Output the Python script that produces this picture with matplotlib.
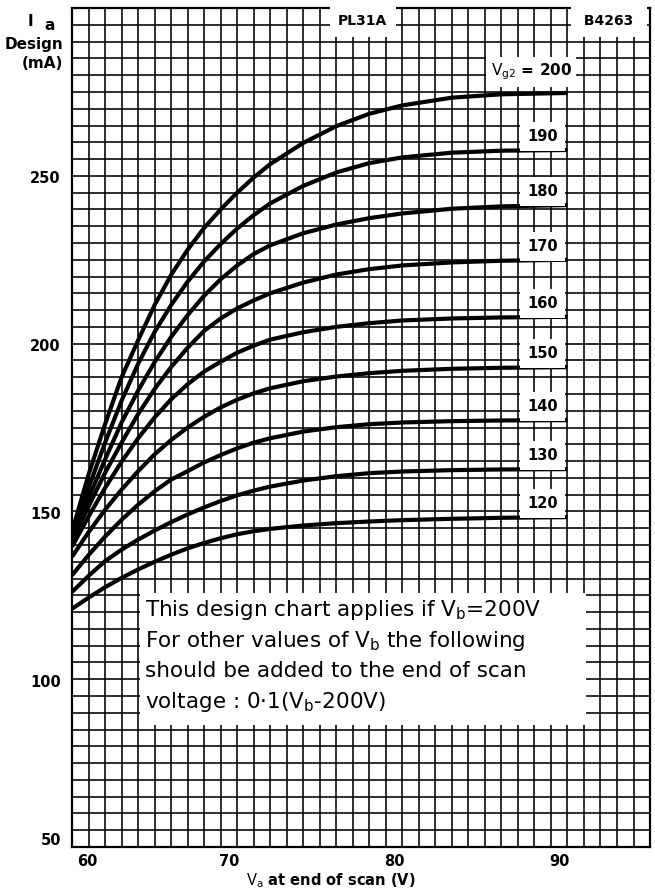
import matplotlib

matplotlib.use("Agg")
import matplotlib.pyplot as plt
import matplotlib.transforms as mtransforms
from matplotlib.patches import Rectangle
from matplotlib.ticker import MultipleLocator

plt.rcParams["font.family"] = ["DejaVu Sans"]
plt.rcParams["mathtext.fontset"] = "dejavusans"

# Va at end of scan (V)
VA = [60, 61, 62, 63, 64, 65, 66, 67, 68, 69, 70, 71, 72, 74, 76, 78, 80, 83, 86, 90]

# Ia design (mA) per screen-grid voltage Vg2
VG2 = [120, 130, 140, 150, 160, 170, 180, 190, 200]
IA = {
    120: [121, 124.3, 127.4, 130.2, 132.7, 135, 137.1, 139, 140.6, 142, 143.2, 144.1, 144.8,
          145.8, 146.5, 147, 147.4, 147.8, 148.1, 148.3],
    130: [126, 130.8, 135.2, 138.6, 141.6, 144.3, 146.8, 149.1, 151.2, 153.1, 154.8, 156.2, 157.4,
          159.2, 160.5, 161.4, 161.9, 162.3, 162.5, 162.6],
    140: [131, 137, 142.5, 147.5, 152, 156, 159.5, 162, 164.6, 166.8, 168.8, 170.5, 171.8,
          173.8, 175.1, 176, 176.5, 176.9, 177.1, 177.2],
    150: [136.5, 143.8, 150.5, 156.5, 162, 167, 171.3, 175, 178.2, 181, 183.3, 185.2, 186.7,
          188.8, 190.2, 191.2, 191.9, 192.5, 192.8, 193],
    160: [139.5, 148.5, 157, 164.8, 171.8, 178, 183.4, 187.9, 191.7, 194.6, 197.3, 199.4, 201.2,
          203.4, 205, 206.1, 206.9, 207.5, 207.8, 208],
    170: [141, 151.5, 161.5, 170.5, 179, 186.5, 193, 198.8, 203.8, 207.5, 210.5, 212.9, 215,
          218.2, 220.6, 222.2, 223.3, 224.2, 224.7, 225],
    180: [142, 154, 165.5, 176.5, 186, 194.5, 202, 208.5, 214.3, 219.2, 223.3, 226.7, 229.3,
          232.9, 235.5, 237.4, 238.8, 240.2, 240.9, 241.3],
    190: [143, 157, 170.5, 183, 194, 203.5, 211.5, 218.5, 224.5, 229.7, 234.3, 238.3, 241.8,
          247, 251, 253.8, 255.5, 256.9, 257.5, 257.7],
    200: [144, 161, 176, 190, 201, 211.5, 220.5, 228, 234.5, 240, 245, 249.5, 253.5,
          259.8, 264.8, 268.5, 271, 273.3, 274.3, 274.7],
}

X_TICKS = [60, 70, 80, 90]
Y_TICKS = [50, 100, 150, 200, 250]

NOTE_LINES = [
    r"This design chart applies if $\mathrm{V_b}$=200V",
    r"For other values of $\mathrm{V_b}$ the following",
    "should be added to the end of scan",
    r"voltage : 0·1($\mathrm{V_b}$-200V)",
]

fig = plt.figure(figsize=(6.55, 8.96), dpi=100)
ax = fig.add_axes([0.110, 0.0547, 0.8824, 0.9363])
ax.set_xlim(60, 95)
ax.set_ylim(50, 300)

# graph-paper grid
ax.xaxis.set_minor_locator(MultipleLocator(1))
ax.yaxis.set_minor_locator(MultipleLocator(5))
ax.set_xticks(X_TICKS)
ax.set_yticks(Y_TICKS)
ax.grid(which="both", color="black", lw=1.15)
ax.set_axisbelow(True)
ax.tick_params(which="both", length=0, labelsize=10.5)
ax.tick_params(axis="y", pad=8)
ax.tick_params(axis="x", pad=5)
for s in ax.spines.values():
    s.set_linewidth(1.6)

for lab in ax.get_xticklabels() + ax.get_yticklabels():
    lab.set_fontweight("bold")

# shift tick labels like the printed sheet
for lab, val in zip(ax.get_xticklabels(), X_TICKS):
    dx = 11 / 72 if val == 60 else -6 / 72
    lab.set_transform(lab.get_transform() + mtransforms.ScaledTranslation(dx, 0, fig.dpi_scale_trans))
for lab, val in zip(ax.get_yticklabels(), Y_TICKS):
    dy = 6 / 72 if val == 50 else -1 / 72
    lab.set_transform(lab.get_transform() + mtransforms.ScaledTranslation(0, dy, fig.dpi_scale_trans))

# curves
for v in VG2:
    ax.plot(VA, IA[v], color="black", lw=3.0, solid_capstyle="butt",
            solid_joinstyle="round", zorder=4)
    end = IA[v][-1]
    if v == 200:
        ax.text(87.8, end + 6.3, r"$\mathrm{V_{g2}}$ = 200", ha="center", va="center",
                fontsize=11, fontweight="bold", zorder=5,
                bbox=dict(boxstyle="square,pad=0.3", fc="white", ec="none"))
    else:
        ax.text(88.5, end + 4.0, str(v), ha="center", va="center",
                fontsize=10.5, fontweight="bold", zorder=5,
                bbox=dict(boxstyle="square,pad=0.48", fc="white", ec="none"))

# header boxes
ax.text(77.6, 296.0, "PL31A", ha="center", va="center", fontsize=10, fontweight="bold",
        zorder=5, bbox=dict(boxstyle="square,pad=0.6", fc="white", ec="none"))
ax.text(92.5, 296.0, " B4263 ", ha="center", va="center", fontsize=10, fontweight="bold",
        zorder=5, bbox=dict(boxstyle="square,pad=0.6", fc="white", ec="none"))

# note box
ax.add_patch(Rectangle((64.1, 86.4), 27.0, 39.4, fc="white", ec="none", zorder=3))
for i, line in enumerate(NOTE_LINES):
    ax.text(64.4, 120.6 - i * 9.1, line, ha="left", va="center", fontsize=15.5, zorder=5)

# axis titles
fig.text(331 / 655, 1 - 881 / 896, r"$\mathrm{V_a}$ at end of scan (V)", ha="center",
         va="center", fontsize=10.5, fontweight="bold")
fig.text(30 / 655, 1 - 22 / 896, "I", ha="center", va="center", fontsize=11, fontweight="bold")
fig.text(50 / 655, 1 - 25 / 896, "a", ha="center", va="center", fontsize=11, fontweight="bold")
fig.text(63 / 655, 1 - 44 / 896, "Design", ha="right", va="center", fontsize=11, fontweight="bold")
fig.text(63 / 655, 1 - 63 / 896, "(mA)", ha="right", va="center", fontsize=11, fontweight="bold")

fig.savefig("out.png", dpi=100, facecolor="white")
